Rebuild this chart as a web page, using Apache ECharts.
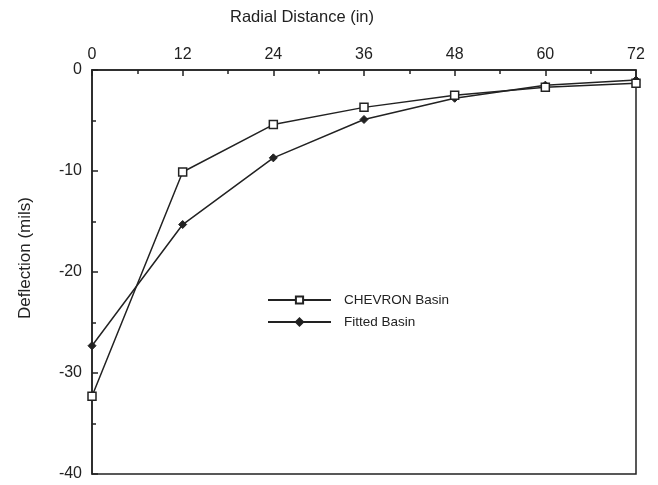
<!DOCTYPE html>
<html>
<head>
<meta charset="utf-8">
<script src="https://cdn.jsdelivr.net/npm/echarts@6/dist/echarts.min.js"></script>
<style>
  html, body { margin: 0; padding: 0; background: #fff; }
  #chart { width: 658px; height: 485px; }
</style>
</head>
<body>
<div id="chart"></div>
<script>
// radial distance (in)
const distance = [0, 12, 24, 36, 48, 60, 72]
// deflection (mils)
const chevronBasin = [-32.3, -10.1, -5.4, -3.7, -2.5, -1.7, -1.3]
const fittedBasin = [-27.3, -15.3, -8.7, -4.9, -2.8, -1.5, -1.0]

const ink = '#222'
const font = 'Liberation Sans, Arial, sans-serif'

const chart = echarts.init(document.getElementById('chart'))

const pairs = (ys) => distance.map((x, i) => [x, ys[i]])

chart.setOption({
  animation: false,
  backgroundColor: '#fff',
  textStyle: { fontFamily: font, color: ink },
  grid: {
    left: 92, top: 70, right: 22, bottom: 11,
    outerBoundsMode: 'none',
    show: true, borderColor: ink, borderWidth: 1.5,
  },
  legend: {
    orient: 'vertical',
    left: 262, top: 288,
    itemWidth: 63, itemHeight: 9, itemGap: 8,
    textStyle: { fontFamily: font, fontSize: 13.5, color: ink, padding: [0, 0, 0, 8] },
    data: ['CHEVRON Basin', 'Fitted Basin'],
  },
  xAxis: {
    type: 'value', position: 'top',
    min: 0, max: 72, interval: 12,
    name: 'Radial Distance (in)', nameLocation: 'middle', nameGap: 44,
    // title sits left of the plot centre in the original
    nameTextStyle: { fontFamily: font, fontSize: 16.5, color: ink, padding: [0, 124, 0, 0] },
    axisLine: { lineStyle: { color: ink, width: 1.5 } },
    axisTick: { inside: true, length: 6, lineStyle: { color: ink, width: 1.5 } },
    minorTick: { show: true, splitNumber: 2, length: 4, lineStyle: { color: ink, width: 1.5 } },
    axisLabel: { fontFamily: font, fontSize: 16, color: ink, margin: 7 },
    splitLine: { show: false },
  },
  yAxis: {
    type: 'value',
    min: -40, max: 0, interval: 10,
    name: 'Deflection (mils)', nameLocation: 'middle', nameGap: 58, nameRotate: 90,
    nameTextStyle: { fontFamily: font, fontSize: 17, color: ink, padding: [0, 0, 0, 28] },
    axisLine: { lineStyle: { color: ink, width: 1.5 } },
    axisTick: { inside: true, length: 6, lineStyle: { color: ink, width: 1.5 } },
    minorTick: { show: true, splitNumber: 2, length: 4, lineStyle: { color: ink, width: 1.5 } },
    axisLabel: { fontFamily: font, fontSize: 16, color: ink, margin: 10 },
    splitLine: { show: false },
  },
  series: [
    {
      name: 'CHEVRON Basin',
      type: 'line',
      data: pairs(chevronBasin),
      symbol: 'rect', symbolSize: 8,
      lineStyle: { color: ink, width: 1.5 },
      itemStyle: { color: '#fff', borderColor: ink, borderWidth: 1.5 },
      z: 3,
    },
    {
      name: 'Fitted Basin',
      type: 'line',
      data: pairs(fittedBasin),
      symbol: 'diamond', symbolSize: 8,
      lineStyle: { color: ink, width: 1.5 },
      itemStyle: { color: ink, borderColor: ink, borderWidth: 1 },
      z: 2,
    },
  ],
})
</script>
</body>
</html>
